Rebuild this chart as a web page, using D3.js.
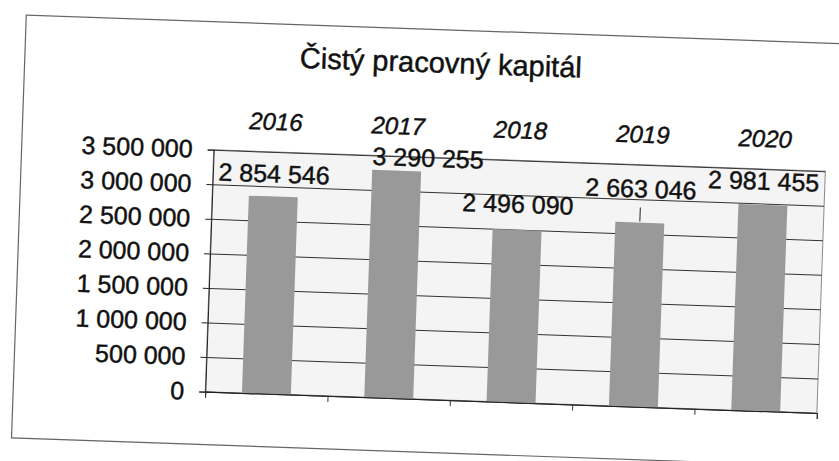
<!DOCTYPE html>
<html lang="sk">
<head>
    <meta charset="UTF-8">
    <title>Čistý pracovný kapitál</title>
    <script src="https://d3js.org/d3.v7.min.js"></script>
    <style>
        body { margin: 0; background: #fff; }
        svg { display: block; font-family: "Liberation Sans", Arial, sans-serif; }
        .ink { stroke: #111; stroke-width: 0.45; paint-order: fill; }
    </style>
</head>
<body>
    <svg id="chart" width="839" height="461"></svg>
    <script>
        // Data
        var years = ["2016", "2017", "2018", "2019", "2020"];
        var values = [2854546, 3290255, 2496090, 2663046, 2981455];
        var yTicks = [0, 500000, 1000000, 1500000, 2000000, 2500000, 3000000, 3500000];

        // labels were dragged by hand in the original
        var labelDx = [0, 31, 0, 0, 0];
        var labelDy = [14, 5, 17, 25, 15];

        var svg = d3.select("#chart");
        var W = +svg.attr("width"), H = +svg.attr("height");

        // the scan is slightly rotated
        var root = svg.append("g")
            .attr("transform", "rotate(2," + (W / 2) + "," + (H / 2) + ")");

        var margin = { left: 211, right: 823, top: 157, bottom: 399 };

        var fmt = d3.formatLocale({ decimal: ",", thousands: " ", grouping: [3], currency: ["", ""] }).format(",d");

        var x = d3.scaleBand()
            .domain(years)
            .range([margin.left, margin.right])
            .paddingInner(0.6)
            .paddingOuter(0.3);

        var xEdge = d3.scaleLinear()
            .domain([0, years.length])
            .range([margin.left, margin.right]);

        var y = d3.scaleLinear()
            .domain([0, 3500000])
            .range([margin.bottom, margin.top]);

        // outer frame
        root.append("rect")
            .attr("x", 19).attr("y", 29)
            .attr("width", 832).attr("height", 423)
            .attr("fill", "#fff")
            .attr("stroke", "#666")
            .attr("stroke-width", 1.2);

        // title
        root.append("text")
            .attr("class", "ink")
            .attr("x", 435).attr("y", 72)
            .attr("text-anchor", "middle")
            .attr("font-size", 29)
            .attr("fill", "#111")
            .text("Čistý pracovný kapitál");

        // plot area
        root.append("rect")
            .attr("x", margin.left).attr("y", margin.top)
            .attr("width", margin.right - margin.left)
            .attr("height", margin.bottom - margin.top)
            .attr("fill", "#f4f4f4")
            .attr("stroke", "#8a8a8a");

        // gridlines
        var grid = root.append("g")
            .attr("transform", "translate(" + margin.left + ",0)")
            .call(d3.axisLeft(y).tickValues(yTicks).tickSize(-(margin.right - margin.left)).tickFormat(""));
        grid.select(".domain").remove();
        grid.selectAll("line").attr("stroke", "#333").attr("stroke-width", 1);

        // bars
        root.append("g")
            .selectAll("rect")
            .data(values)
            .enter()
            .append("rect")
            .attr("x", function (d, i) { return x(years[i]); })
            .attr("y", function (d) { return y(d); })
            .attr("width", x.bandwidth())
            .attr("height", function (d) { return y(0) - y(d); })
            .attr("fill", "#999");

        // y axis
        var yAxis = root.append("g")
            .attr("transform", "translate(" + margin.left + ",0)")
            .call(d3.axisLeft(y).tickValues(yTicks).tickSize(6).tickPadding(15).tickFormat(fmt));
        yAxis.select(".domain").attr("stroke", "#222");
        yAxis.selectAll("line").attr("stroke", "#222");
        yAxis.selectAll("text")
            .attr("class", "ink")
            .attr("font-size", 25)
            .attr("fill", "#111")
            .attr("font-family", "Liberation Sans, Arial, sans-serif");

        // x axis (ticks between categories)
        var xAxis = root.append("g")
            .attr("transform", "translate(0," + margin.bottom + ")")
            .call(d3.axisBottom(xEdge).tickValues(d3.range(years.length + 1)).tickSize(6).tickFormat(""));
        xAxis.select(".domain").attr("stroke", "#222");
        xAxis.selectAll("line").attr("stroke", "#333");

        // year labels above the plot
        root.append("g")
            .selectAll("text")
            .data(years)
            .enter()
            .append("text")
            .attr("class", "ink")
            .attr("x", function (d) { return x(d) + x.bandwidth() / 2; })
            .attr("y", 135)
            .attr("text-anchor", "middle")
            .attr("font-size", 24)
            .attr("font-style", "italic")
            .attr("fill", "#111")
            .text(function (d) { return d; });

        // data labels
        var cx = function (i) { return x(years[i]) + x.bandwidth() / 2; };
        root.append("g")
            .selectAll("text")
            .data(values)
            .enter()
            .append("text")
            .attr("class", "ink")
            .attr("x", function (d, i) { return cx(i) + labelDx[i]; })
            .attr("y", function (d, i) { return y(d) - labelDy[i]; })
            .attr("text-anchor", "middle")
            .attr("font-size", 25)
            .attr("fill", "#111")
            .text(function (d) { return fmt(d); });

        // leader line on the 2019 label
        root.append("line")
            .attr("x1", cx(3)).attr("x2", cx(3))
            .attr("y1", y(values[3]) - labelDy[3] + 10)
            .attr("y2", y(values[3]) - 1)
            .attr("stroke", "#222");
    </script>
</body>
</html>
